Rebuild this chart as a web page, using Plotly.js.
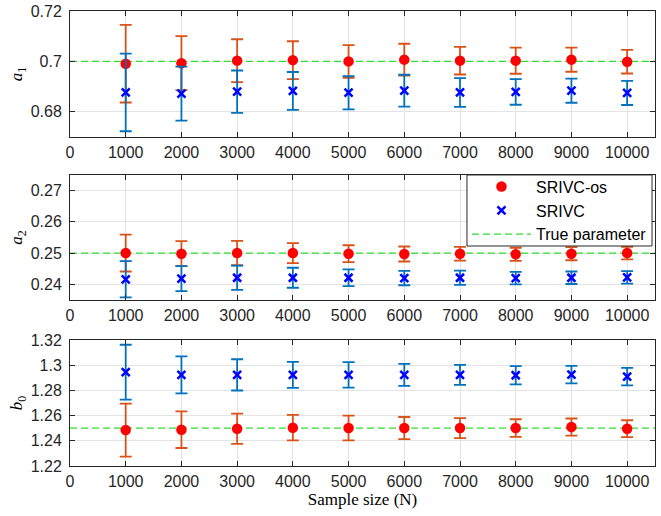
<!DOCTYPE html>
<html><head><meta charset="utf-8">
<script src="https://cdn.plot.ly/plotly-3.0.1.min.js"></script>
<style>body{margin:0;padding:0;background:#fff}#chart{width:661px;height:516px}</style>
</head><body><div id="chart"></div>
<script>
const N = [1000,2000,3000,4000,5000,6000,7000,8000,9000,10000];
const xTicks = [0,1000,2000,3000,4000,5000,6000,7000,8000,9000,10000];
const xMax = 10500;

const a1_os = [0.6991,0.6993,0.7003,0.7005,0.7000,0.7007,0.7003,0.7003,0.7007,0.6999];
const a1_os_err = [0.0154,0.0107,0.0085,0.0075,0.0065,0.0063,0.0055,0.0052,0.0048,0.0047];
const a1_sr = [0.6877,0.6872,0.6880,0.6883,0.6876,0.6884,0.6877,0.6879,0.6884,0.6875];
const a1_sr_err = [0.0154,0.0107,0.0084,0.0075,0.0066,0.0063,0.0057,0.0051,0.0048,0.0048];

const a2_os = [0.2500,0.2498,0.2500,0.2500,0.2498,0.2497,0.2498,0.2496,0.2498,0.2500];
const a2_os_err = [0.0059,0.0040,0.0039,0.0032,0.0027,0.0024,0.0022,0.0021,0.0021,0.0020];
const a2_sr = [0.2416,0.2418,0.2421,0.2421,0.2421,0.2420,0.2421,0.2420,0.2421,0.2422];
const a2_sr_err = [0.0058,0.0040,0.0039,0.0032,0.0027,0.0023,0.0023,0.0020,0.0020,0.0020];

const b0_os = [1.2485,1.2488,1.2496,1.2504,1.2501,1.2501,1.2501,1.2501,1.2509,1.2496];
const b0_os_err = [0.0210,0.0145,0.0120,0.0101,0.0098,0.0088,0.0079,0.0070,0.0068,0.0067];
const b0_sr = [1.2944,1.2923,1.2923,1.2923,1.2923,1.2923,1.2923,1.2920,1.2925,1.2909];
const b0_sr_err = [0.0218,0.0147,0.0124,0.0103,0.0101,0.0087,0.0080,0.0072,0.0070,0.0069];

const truth = [0.7, 0.25, 1.25];
const yRanges = [[0.67,0.72],[0.235,0.275],[1.22,1.32]];
const yTicks = [[0.68,0.7,0.72],[0.24,0.25,0.26,0.27],[1.22,1.24,1.26,1.28,1.3,1.32]];
const yTitles = ['<i>a</i><sub>1</sub>','<i>a</i><sub>2</sub>','<i>b</i><sub>0</sub>'];

const osColor = '#D95319', osMarker = '#FF0000';
const srColor = '#0072BD', srMarker = '#0000FF';
const trueColor = '#2ee02e';
const trueDash = '7px,4px';

const sets = [[a1_os,a1_os_err,a1_sr,a1_sr_err],[a2_os,a2_os_err,a2_sr,a2_sr_err],[b0_os,b0_os_err,b0_sr,b0_sr_err]];
const traces = [];
sets.forEach((s,i)=>{
  const xa = i===0?'x':'x'+(i+1), ya = i===0?'y':'y'+(i+1);
  const leg = (i===1);
  traces.push({x:[0,xMax], y:[truth[i],truth[i]], mode:'lines', xaxis:xa, yaxis:ya,
    line:{color:trueColor, width:1.3, dash:trueDash}, name:'True parameter', showlegend:false, legendrank:3});
  traces.push({x:N, y:s[0], mode:'markers', xaxis:xa, yaxis:ya, name:'SRIVC-os', showlegend:leg, legendrank:1,
    marker:{color:osMarker, size:10.5, symbol:'circle'},
    error_y:{type:'data', array:s[1], visible:true, color:osColor, thickness:1.8, width:6}});
  traces.push({x:N, y:s[2], mode:'markers', xaxis:xa, yaxis:ya, name:'SRIVC', showlegend:leg, legendrank:2,
    marker:{color:srMarker, size:8, symbol:'x-thin', line:{color:srMarker, width:2.5}},
    error_y:{type:'data', array:s[3], visible:true, color:srColor, thickness:1.8, width:6}});
});
traces.push({x:[null], y:[null], mode:'lines', xaxis:'x2', yaxis:'y2', name:'True parameter', showlegend:true, legendrank:3,
  line:{color:trueColor, width:1.3, dash:trueDash}});

const tickFont = {family:'Liberation Sans, Arial, sans-serif', size:16, color:'#262626'};
const domains = [[0.723,1],[0.365,0.6396],[0,0.277]];
const layout = {
  width:661, height:516, paper_bgcolor:'#fff', plot_bgcolor:'#fff',
  margin:{l:70, r:6, t:11, b:50},
  showlegend:true,
  legend:{x:0.6786, y:0.6513, xanchor:'left', yanchor:'top', bgcolor:'rgba(0,0,0,0)', borderwidth:0,
    font:{family:'Liberation Sans, Arial, sans-serif', size:16, color:'#000'}, tracegroupgap:0, itemwidth:59},
  shapes:[{type:'rect', xref:'paper', yref:'paper', x0:0.6786, x1:0.9949, y0:0.4835, y1:0.6396,
    fillcolor:'#fff', line:{color:'#262626', width:1}, layer:'above'}],
  font:tickFont
};
for (let i=0;i<3;i++){
  const k = i===0?'':String(i+1);
  layout['xaxis'+k] = {domain:[0,1], range:[0,xMax], tickvals:xTicks, ticktext:xTicks.map(String),
    anchor:'y'+k, showgrid:true, gridcolor:'#e3e3e3', gridwidth:1, zeroline:false,
    showline:true, linecolor:'#262626', linewidth:1, mirror:'ticks', ticks:'inside', ticklen:5, tickcolor:'#262626',
    tickfont:tickFont, ticklabelstandoff:1};
  layout['yaxis'+k] = {domain:domains[i], range:yRanges[i], tickvals:yTicks[i], ticktext:yTicks[i].map(String),
    anchor:'x'+k, showgrid:true, gridcolor:'#e3e3e3', gridwidth:1, zeroline:false,
    showline:true, linecolor:'#262626', linewidth:1, mirror:'ticks', ticks:'inside', ticklen:5, tickcolor:'#262626',
    tickfont:tickFont, ticklabelstandoff:4,
    title:{text:yTitles[i], font:{family:'Liberation Serif, Times New Roman, serif', size:17, color:'#000'}, standoff:3}};
}
layout.xaxis3.title = {text:'Sample size (N)', font:{family:'Liberation Serif, Times New Roman, serif', size:17, color:'#000'}, standoff:2};
Plotly.newPlot('chart', traces, layout, {displayModeBar:false, staticPlot:true});
</script></body></html>
